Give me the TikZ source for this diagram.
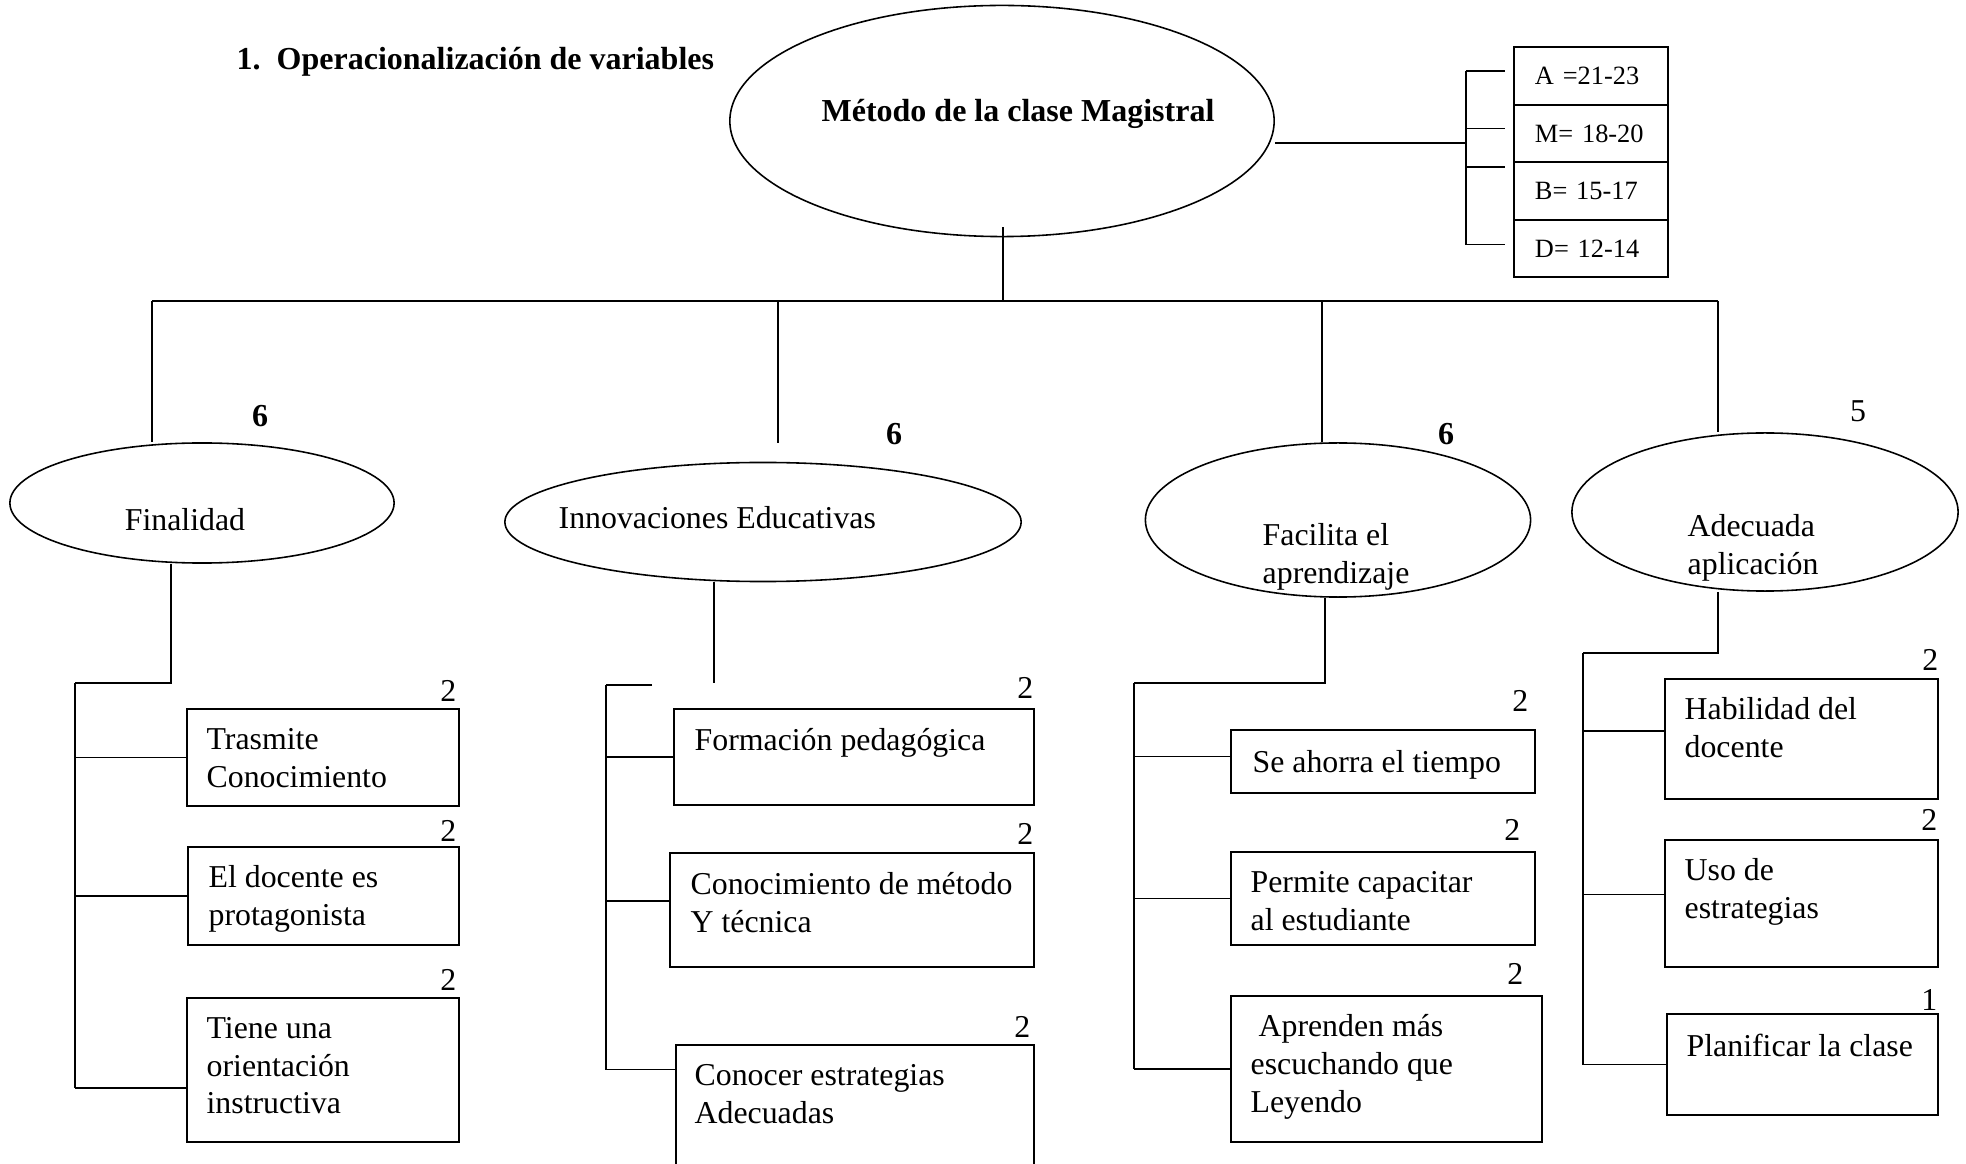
\documentclass[tikz,border=0pt]{standalone}
\usepackage{fontspec}
\setmainfont{Liberation Serif}
\usepackage{tikz}
\usetikzlibrary{calc,fit,positioning,shapes.geometric}
\tikzset{
 lbl/.style = {font=\fontsize{9.05}{10.7}\selectfont, inner sep=0pt, align=left},
 blbl/.style = {lbl, font=\fontsize{9.1}{10.7}\selectfont\bfseries},
 ibox/.style = {draw, line width=0.6pt, inner sep=0pt},
 elli/.style = {draw, ellipse, line width=0.45pt, inner sep=0pt},
 grade/.style = {draw, line width=0.6pt, minimum width=1.54cm, minimum height=0.575cm,
   text width=1.12cm, inner xsep=0.21cm, inner ysep=0pt, outer sep=0pt, align=left,
   font=\fontsize{7.5}{9}\selectfont},
 link/.style = {line width=0.5pt}
}
\pgfkeys{
 /itemBox/.is family, /itemBox,
 name/.estore in = \ibName,
 txt/.store in = \ibTxt,
 num/.estore in = \ibNum,
 ox/.estore in = \ibOX,
 oy/.estore in = \ibOY,
 nx/.estore in = \ibNX,
 ny/.estore in = \ibNY,
 tick/.estore in = \ibTick,
 bar/.estore in = \ibBar,
 default/.style =
  {name=box, txt={}, num=2, ox=20, oy=20, nx=-2, ny=-6, tick=0, bar=finBar}
}
\newcommand{\itemBox}[3][]{
    \pgfkeys{/itemBox, default, #1}%
    \node[ibox, fit={#2 #3}] (\ibName) {};
    \node[lbl, anchor=north west] (\ibName_t) at ($(\ibName.north west)+(\ibOX,\ibOY)$) {\ibTxt};
    \node[lbl, anchor=south east] (\ibName_n) at ($(\ibName.north east)+(\ibNX,\ibNY)$) {\ibNum};
    \coordinate (\ibName_k) at ($(\ibName.west)+(0,\ibTick)$);
    \draw[link] (\ibName_k) -- (\ibName_k -| \ibBar);
}

\begin{document}
\begin{tikzpicture}[x=0.01cm, y=-0.01cm]
    \useasboundingbox (0,0) rectangle (1966,1164);
    \clip (0,0) rectangle (1966,1164);

    \node[blbl, anchor=base west] (title) at (236,70) {1.\hspace{0.5em}Operacionalización de variables};

    \node[elli, minimum width=5.44cm, minimum height=2.31cm] (main) at (1002,121) {};
    \node[blbl, anchor=base] (main_t) at (1018,122) {Método de la clase Magistral};

    \node[grade] (gA) at (1591,76) {A =21-23};
    \node[grade, below=0pt of gA] (gM) {M= 18-20};
    \node[grade, below=0pt of gM] (gB) {B= 15-17};
    \node[grade, below=0pt of gB] (gD) {D= 12-14};
    \coordinate (brk) at (1466,143);
    \draw[link] ($(main.east)+(0,22)$) -- (brk);
    \foreach \g/\d in {gA/-5, gM/-5, gB/-24, gD/-4} {
        \coordinate (\g_k) at ($(\g.west)+(-48,\d)$);
        \draw[link] (\g_k) -- ++(39,0);
    }
    \draw[link] (gA_k) -- (gD_k);

    \coordinate (busL) at (152,301);
    \coordinate (busR) at (1718,301);
    \coordinate (tapI) at (778,301);
    \coordinate (tapF) at (1322,301);
    \draw[link] ($(main.south)+(1,-10)$) -- ++(0,74);
    \draw[link] (busL) -- (busR);

    \node[elli, minimum width=3.84cm, minimum height=1.20cm] (fin) at (202,503) {};
    \node[elli, minimum width=5.16cm, minimum height=1.19cm] (inn) at (763,522) {};
    \node[elli, minimum width=3.85cm, minimum height=1.54cm] (fac) at (1338,520) {};
    \node[elli, minimum width=3.86cm, minimum height=1.58cm] (ade) at (1765,512) {};
    \node[lbl, anchor=base] (fin_t) at (185,531) {Finalidad};
    \node[lbl, anchor=base west] (inn_t) at (558,529) {Innovaciones Educativas};
    \node[lbl, anchor=north west] (fac_t) at (1262,523) {Facilita el\\aprendizaje};
    \node[lbl, anchor=north west] (ade_t) at (1687,514) {Adecuada\\aplicación};
    \node[blbl] (fin_n) at (260,416) {6};
    \node[blbl] (inn_n) at (894,434) {6};
    \node[blbl] (fac_n) at (1446,434) {6};
    \node[lbl] (ade_n) at (1858,411) {5};

    \draw[link] (busL) -- (busL |- fin.north);
    \draw[link] (tapI) -- ++(0,142);
    \draw[link] (tapF) -- (tapF |- fac.north);
    \draw[link] (busR) -- (busR |- ade.north);

    \coordinate (finBar) at (75,683);
    \coordinate (innBar) at (606,685);
    \coordinate (facBar) at (1134,683);
    \coordinate (adeBar) at (1583,653);
    \draw[link] ($(fin.south)+(-31,0)$) |- (finBar);
    \draw[link] ($(inn.south)+(-49,0)$) -- ++(0,101);
    \draw[link] ($(innBar)+(46,0)$) -- (innBar);
    \draw[link] ($(fac.south)+(-13,0)$) |- (facBar);
    \draw[link] ($(ade.south)+(-47,0)$) |- (adeBar);

    \itemBox[name=fin1, nx=-3, txt={Trasmite\\Conocimiento}]{(187,709)}{(459,806)}
    \itemBox[name=fin2, ox=21, oy=19, nx=-3, ny=-4, txt={El docente es\\protagonista}]{(188,847)}{(459,945)}
    \itemBox[name=fin3, nx=-3, tick=18, txt={Tiene una\\orientación\\instructiva}]{(187,998)}{(459,1142)}

    \itemBox[name=inn1, bar=innBar, ox=21, nx=-1, ny=-9, txt={Formación pedagógica}]{(674,709)}{(1034,805)}
    \itemBox[name=inn2, bar=innBar, ox=21, nx=-1, ny=-7, tick=-9, txt={Conocimiento de método\\Y técnica}]{(670,853)}{(1034,967)}
    \itemBox[name=inn3, bar=innBar, ox=19, nx=-4, tick=-48, txt={Conocer estrategias\\Adecuadas}]{(676,1045)}{(1034,1190)}

    \itemBox[name=fac1, bar=facBar, ox=22, oy=21, nx=-7, ny=-17, tick=-5, txt={Se ahorra el tiempo}]{(1231,730)}{(1535,793)}
    \itemBox[name=fac2, bar=facBar, nx=-15, ny=-10, txt={Permite capacitar\\al estudiante}]{(1231,852)}{(1535,945)}
    \itemBox[name=fac3, bar=facBar, oy=19, nx=-19, ny=-10, txt={~Aprenden más\\escuchando que\\Leyendo}]{(1231,996)}{(1542,1142)}

    \itemBox[name=ade1, bar=adeBar, oy=19, nx=0, ny=-7, tick=-8, txt={Habilidad del\\docente}]{(1665,679)}{(1938,799)}
    \itemBox[name=ade2, bar=adeBar, oy=19, nx=-1, ny=-8, tick=-9, txt={Uso de\\estrategias}]{(1665,840)}{(1938,967)}
    \itemBox[name=ade3, bar=adeBar, nx=-1, ny=-2, num=1, txt={Planificar la clase}]{(1667,1014)}{(1938,1115)}

    \draw[link] (finBar) -- (finBar |- fin3_k);
    \draw[link] (innBar) -- (innBar |- inn3_k);
    \draw[link] (facBar) -- (facBar |- fac3_k);
    \draw[link] (adeBar) -- (adeBar |- ade3_k);
\end{tikzpicture}
\end{document}
